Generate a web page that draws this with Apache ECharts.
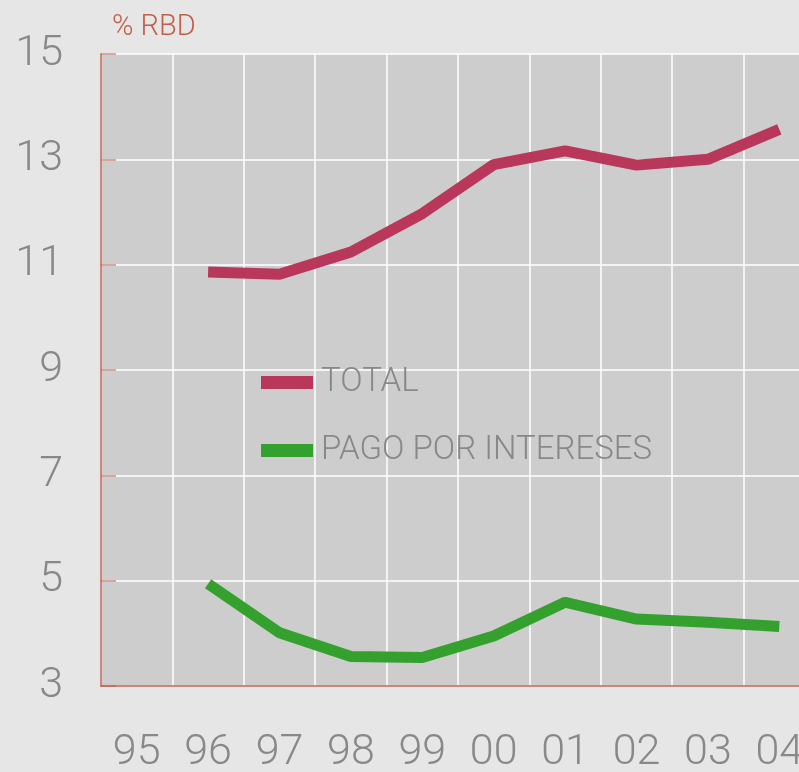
<!DOCTYPE html>
<html>
<head>
<meta charset="utf-8">
<script src="https://cdn.jsdelivr.net/npm/echarts@6/dist/echarts.min.js"></script>
<style>
html,body{margin:0;padding:0;background:#e6e6e6;overflow:hidden;}
#main{width:815px;height:772px;}
</style>
</head>
<body>
<div id="main"></div>
<script>
// años (eje x)
var years = ['95','96','97','98','99','00','01','02','03','04'];
// % RBD
var total = ['-',10.86,10.82,11.24,11.97,12.9,13.16,12.89,13.0,13.57];
var pagoIntereses = ['-',4.94,4.01,3.56,3.54,3.95,4.59,4.27,4.21,4.13];

var axisRed = '#c0604c';
var txtGray = '#888888';
var fontFam = 'Roboto, "Liberation Sans", sans-serif';

var myChart = echarts.init(document.getElementById('main'));
var option = {
	backgroundColor: '#e6e6e6',
	title: {
		text: '% RBD',
		left: 112,
		top: 13,
		padding: 0,
		textStyle: {color: axisRed, fontSize: 29, fontWeight: 300, fontFamily: fontFam}
	},
	legend: {
		orient: 'vertical',
		left: 261,
		top: 366,
		padding: 0,
		itemWidth: 52,
		itemHeight: 13,
		itemGap: 35,
		icon: 'rect',
		textStyle: {color: txtGray, fontSize: 33, fontWeight: 300, fontFamily: fontFam, lineHeight: 33, padding: [0,0,0,3]},
		data: ['TOTAL','PAGO POR INTERESES']
	},
	grid: {
		left: 101, right: 0, top: 54, bottom: 86,
		outerBoundsMode: 'none',
		show: true, backgroundColor: '#cdcdcd', borderWidth: 0
	},
	xAxis: {
		type: 'category',
		data: years,
		boundaryGap: true,
		axisLine: {lineStyle: {color: axisRed, width: 1.5}},
		axisTick: {inside: true, length: 14, lineStyle: {color: 'rgba(192,96,76,0.6)', width: 1.5}},
		axisLabel: {color: txtGray, fontSize: 43, fontWeight: 300, fontFamily: fontFam, margin: 46},
		splitLine: {show: true, lineStyle: {color: '#ffffff', width: 1.5}}
	},
	yAxis: {
		type: 'value',
		min: 3, max: 15, interval: 2,
		axisLine: {show: true, lineStyle: {color: axisRed, width: 1.5}},
		axisTick: {show: true, inside: true, length: 15, lineStyle: {color: 'rgba(192,96,76,0.7)', width: 1.5}},
		axisLabel: {color: txtGray, fontSize: 43, fontWeight: 300, fontFamily: fontFam, margin: 38},
		splitLine: {lineStyle: {color: '#ffffff', width: 1.5}}
	},
	series: [{
		name: 'TOTAL',
		type: 'line',
		symbol: 'none',
		color: '#b9375b',
		lineStyle: {width: 11},
		data: total
	},{
		name: 'PAGO POR INTERESES',
		type: 'line',
		symbol: 'none',
		color: '#34a12e',
		lineStyle: {width: 11},
		data: pagoIntereses
	}]
};
myChart.setOption(option);
</script>
</body>
</html>
